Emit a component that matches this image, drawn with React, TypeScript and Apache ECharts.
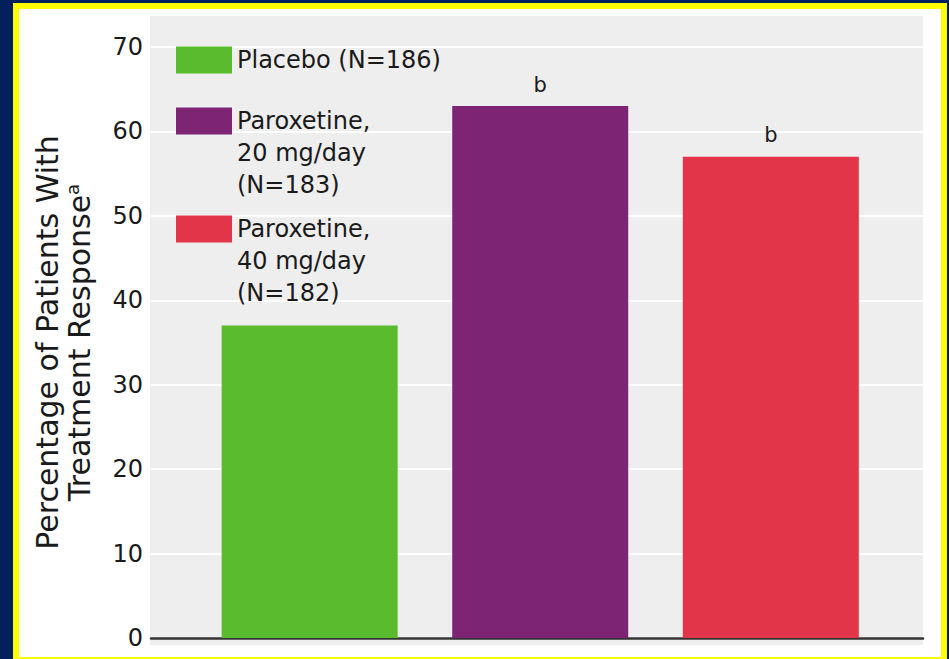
import React, { useEffect, useRef } from "react";
import * as echarts from "echarts";

const categories = ["Placebo", "Paroxetine 20 mg/day", "Paroxetine 40 mg/day"];
const legendLabels = [
  "Placebo (N=186)",
  "Paroxetine,\n20 mg/day\n(N=183)",
  "Paroxetine,\n40 mg/day\n(N=182)",
];
const responseRates = [37, 63, 57];
const significance = ["", "b", "b"];
const barColors = ["#5abb2e", "#7e2475", "#e3354a"];
const yMin = 0;
const yMax = 70;
const yInterval = 10;

const FONT = "DejaVu Sans";
const TEXT = "#1a1a1a";

export default function App() {
  const ref = useRef<HTMLDivElement>(null);

  useEffect(() => {
    if (!ref.current) return;
    const chart = echarts.init(ref.current, undefined, { renderer: "svg" });

    const legendTops = [44, 41, 149];

    const option: any = {
      animation: false,
      backgroundColor: "#03205c",
      graphic: [
        { type: "rect", z: -10, shape: { x: 13, y: 3, width: 934, height: 662 }, style: { fill: "#ffff00" } },
        { type: "rect", z: -9, shape: { x: 19, y: 9, width: 922, height: 648 }, style: { fill: "#ffffff" } },
        { type: "rect", z: -8, shape: { x: 150, y: 16, width: 773, height: 629 }, style: { fill: "#eeeeee" } },
      ],
      grid: { left: 151, right: 26, top: 47, bottom: 21, containLabel: false },
      xAxis: {
        type: "value",
        min: -0.688,
        max: 2.66,
        axisLine: { show: true, lineStyle: { color: "#333333", width: 2.5 } },
        axisTick: { show: false },
        axisLabel: { show: false },
        splitLine: { show: false },
      },
      yAxis: {
        type: "value",
        min: yMin,
        max: yMax,
        interval: yInterval,
        axisLine: { show: false },
        axisTick: { show: false },
        axisLabel: { fontFamily: FONT, fontSize: 24, color: TEXT, margin: 8 },
        splitLine: { lineStyle: { color: "#ffffff", width: 2 } },
        name: "Percentage of Patients With\nTreatment Response{sup|a}",
        nameLocation: "middle",
        nameGap: 56,
        nameTextStyle: {
          fontFamily: FONT,
          fontSize: 30,
          lineHeight: 32,
          color: TEXT,
          rich: {
            sup: { fontFamily: FONT, fontSize: 18, lineHeight: 20, verticalAlign: "top", color: TEXT },
          },
        },
      },
      legend: legendLabels.map((lab, i) => ({
        data: [lab],
        left: 176,
        top: legendTops[i],
        padding: 0,
        selectedMode: false,
        icon: "rect",
        itemWidth: 56,
        itemHeight: 27,
        formatter: (name: string) => (i === 0 ? name : "\n\n" + name),
        textStyle: {
          fontFamily: FONT,
          fontSize: 24,
          lineHeight: 32,
          color: TEXT,
        },
      })),
      series: categories.map((c, i) => ({
        name: legendLabels[i],
        type: "bar",
        barWidth: 176,
        barGap: "-100%",
        itemStyle: { color: barColors[i] },
        label: {
          show: significance[i] !== "",
          position: "top",
          distance: 11,
          formatter: () => significance[i],
          fontFamily: FONT,
          fontSize: 21,
          color: TEXT,
        },
        data: [[i, responseRates[i]]],
      })),
    };

    chart.setOption(option);
    return () => chart.dispose();
  }, []);

  return (
    <div
      ref={ref}
      style={{ position: "fixed", left: 0, top: 0, width: 949, height: 659 }}
    />
  );
}
